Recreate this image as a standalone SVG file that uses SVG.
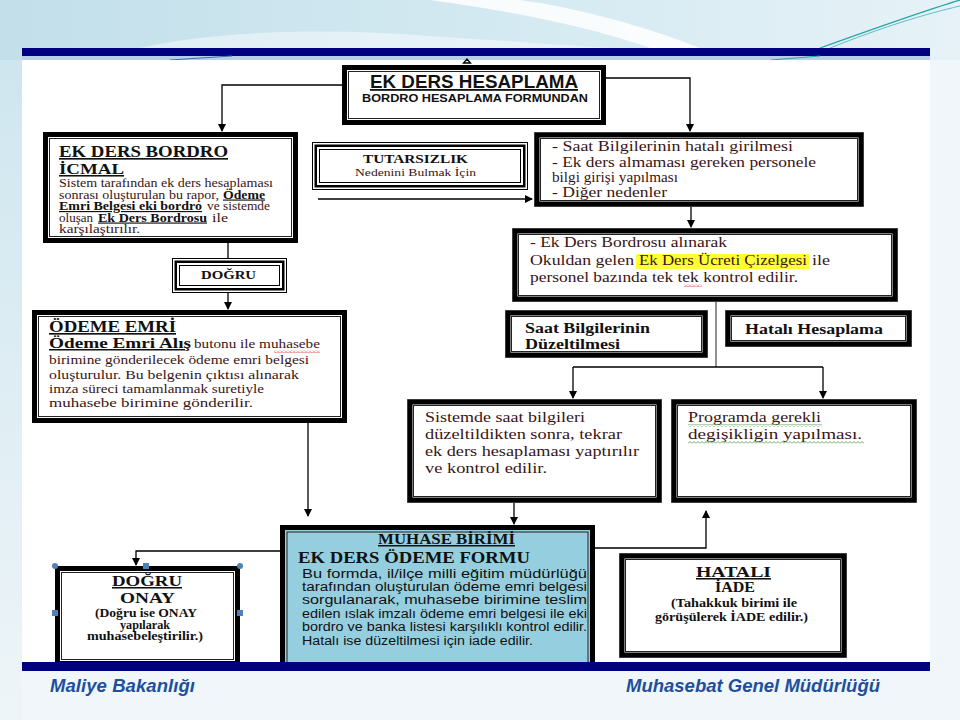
<svg xmlns="http://www.w3.org/2000/svg" width="960" height="720" viewBox="0 0 960 720">
<style>
.fo{fill:none;stroke:#000;stroke-width:5}
.fi{fill:none;stroke:#222;stroke-width:1}
.fg{fill:none;stroke:#777;stroke-width:1}
.t1{fill:none;stroke:#000;stroke-width:1}
.t2{fill:none;stroke:#000;stroke-width:2.5}
.bg{fill:#fff}
.edge{fill:none;stroke:#000;stroke-width:1.3}
.sf{font-family:"Liberation Serif","Times New Roman",serif}
.ss{font-family:"Liberation Sans",Arial,sans-serif}
.b{font-weight:bold}
.u{text-decoration:underline}
.body{fill:#3a1414}
.dark{fill:#111}
.foot{font-family:"Liberation Sans",Arial,sans-serif;font-weight:bold;font-style:italic;font-size:18.5px;fill:#1c4f9c}
.hd{fill:#4f81bd}
</style>
<defs>
<marker id="ah" markerWidth="8" markerHeight="8" refX="7" refY="4" orient="auto" markerUnits="userSpaceOnUse">
<path d="M0,0 L8,4 L0,8 z" fill="#000"/>
</marker>
<linearGradient id="topg" x1="0" y1="0" x2="1" y2="0">
<stop offset="0" stop-color="#c2dfea"/>
<stop offset="0.5" stop-color="#d3e9f1"/>
<stop offset="1" stop-color="#e6f2f7"/>
</linearGradient>
<linearGradient id="leftg" x1="0" y1="0" x2="0" y2="1">
<stop offset="0" stop-color="#cfe6ef"/>
<stop offset="1" stop-color="#eef5f8"/>
</linearGradient>
<pattern id="wg" width="4" height="3" patternUnits="userSpaceOnUse">
<polyline points="0,2.5 2,0.5 4,2.5" fill="none" stroke="#3a9a3a" stroke-width="0.8"/>
</pattern>
<pattern id="wr" width="4" height="3" patternUnits="userSpaceOnUse">
<polyline points="0,2.5 2,0.5 4,2.5" fill="none" stroke="#d03030" stroke-width="0.8"/>
</pattern>
</defs>

<!-- background -->
<rect x="0" y="0" width="960" height="720" fill="#f0f6f9"/>
<rect x="0" y="0" width="960" height="60" fill="url(#topg)"/>
<rect x="0" y="60" width="22" height="660" fill="url(#leftg)"/>
<path d="M140,48 C220,30 330,28 430,36 C520,42 580,46 610,48 Z" fill="#ffffff" opacity="0.45"/>
<path d="M430,0 C520,12 600,30 650,48 L700,48 C650,28 580,8 520,0 Z" fill="#ffffff" opacity="0.85"/>
<path d="M820,48 C870,30 920,12 960,0" fill="none" stroke="#2aa5a5" stroke-width="1.2"/>
<path d="M830,48 C880,28 925,14 960,6" fill="none" stroke="#5cc0c8" stroke-width="1"/>
<rect x="22" y="48" width="908" height="8" fill="#000080"/>
<rect x="22" y="56" width="908" height="4" fill="#b7cfe6"/>
<path d="M170,60 L232,56" stroke="#3a6fb0" stroke-width="1.2"/>
<path d="M771,60 L820,56" stroke="#2aa5a5" stroke-width="1.2"/>
<rect x="22" y="60" width="908" height="602" fill="#ffffff"/>

<!-- nodes -->
<g id="ek-ders-hesaplama">
<rect class="bg" x="342" y="65" width="264" height="60"/>
<rect class="fo" x="344.5" y="67.5" width="259" height="55"/>
<rect class="fi" x="348.5" y="71.5" width="251" height="47"/>
<text class="ss b u dark" x="370" y="88" font-size="18" textLength="208" lengthAdjust="spacingAndGlyphs">EK DERS HESAPLAMA</text>
<text class="ss b dark" x="362" y="102" font-size="11.5" textLength="226" lengthAdjust="spacingAndGlyphs">BORDRO HESAPLAMA FORMUNDAN</text>
</g>

<g id="ek-ders-bordro-icmal">
<rect class="bg" x="43" y="132" width="255" height="111"/>
<rect class="fo" x="45.5" y="134.5" width="250" height="106"/>
<rect class="fi" x="49.5" y="138.5" width="242" height="98"/>
<text class="sf b u dark" x="59" y="157" font-size="16.5" textLength="169" lengthAdjust="spacingAndGlyphs">EK DERS BORDRO</text>
<text class="sf b u dark" x="59" y="174" font-size="15.5" textLength="65" lengthAdjust="spacingAndGlyphs">İCMAL</text>
<text class="sf body" x="59" y="187" font-size="11.5" textLength="214" lengthAdjust="spacingAndGlyphs">Sistem tarafından ek ders hesaplaması</text>
<text class="sf body" x="59" y="198.5" font-size="11.5" textLength="160" lengthAdjust="spacingAndGlyphs">sonrası oluşturulan bu rapor,</text>
<text class="sf b u dark" x="223" y="198.5" font-size="11.5" textLength="42" lengthAdjust="spacingAndGlyphs">Ödeme</text>
<text class="sf b u dark" x="59" y="210" font-size="11.5" textLength="143" lengthAdjust="spacingAndGlyphs">Emri Belgesi eki bordro</text>
<text class="sf body" x="207" y="210" font-size="11.5" textLength="63" lengthAdjust="spacingAndGlyphs">ve sistemde</text>
<text class="sf body" x="59" y="221.5" font-size="11.5" textLength="34" lengthAdjust="spacingAndGlyphs">oluşan</text>
<text class="sf b u dark" x="98" y="221.5" font-size="11.5" textLength="109" lengthAdjust="spacingAndGlyphs">Ek Ders Bordrosu</text>
<text class="sf body" x="212" y="221.5" font-size="11.5" textLength="16" lengthAdjust="spacingAndGlyphs">ile</text>
<text class="sf body" x="59" y="233" font-size="11.5" textLength="81" lengthAdjust="spacingAndGlyphs">karşılaştırılır.</text>
</g>

<g id="tutarsizlik">
<rect class="bg" x="312" y="142" width="216" height="48"/>
<rect class="t1" x="312.5" y="142.5" width="215" height="47"/>
<rect class="t2" x="315.75" y="145.75" width="208.5" height="40.5"/>
<rect class="t1" x="319.5" y="149.5" width="201" height="33"/>
<text class="sf b dark" x="363" y="163" font-size="12.5" textLength="105" lengthAdjust="spacingAndGlyphs">TUTARSIZLIK</text>
<text class="sf body" x="355" y="176" font-size="10.5" textLength="121" lengthAdjust="spacingAndGlyphs">Nedenini Bulmak İçin</text>
</g>

<g id="hata-nedenleri">
<rect class="bg" x="534" y="132" width="330" height="75"/>
<rect class="fg" x="534.5" y="132.5" width="329" height="74"/>
<rect class="fo" x="537" y="135" width="324" height="69"/>
<rect class="fi" x="540.5" y="138.5" width="317" height="62"/>
<text class="sf body" x="552" y="151" font-size="14.5" textLength="241" lengthAdjust="spacingAndGlyphs">- Saat Bilgilerinin hatalı girilmesi</text>
<text class="sf body" x="552" y="166.5" font-size="14.5" textLength="264" lengthAdjust="spacingAndGlyphs">- Ek ders almaması gereken personele</text>
<text class="sf body" x="552" y="182" font-size="14.5" textLength="126" lengthAdjust="spacingAndGlyphs">bilgi girişi yapılması</text>
<text class="sf body" x="552" y="197" font-size="14.5" textLength="115" lengthAdjust="spacingAndGlyphs">- Diğer nedenler</text>
</g>

<g id="ek-ders-bordrosu-kontrol">
<rect class="bg" x="512" y="228" width="386" height="74"/>
<rect class="fg" x="512.5" y="228.5" width="385" height="73"/>
<rect class="fo" x="515" y="231" width="380" height="68"/>
<rect class="fi" x="518.5" y="234.5" width="373" height="61"/>
<rect x="636" y="254" width="173" height="15" fill="#ffff33"/>
<text class="sf body" x="530" y="247" font-size="15" textLength="197" lengthAdjust="spacingAndGlyphs">- Ek Ders Bordrosu alınarak</text>
<text class="sf body" x="530" y="265" font-size="15" textLength="104" lengthAdjust="spacingAndGlyphs">Okuldan gelen</text>
<text class="sf body" x="639" y="265" font-size="15" textLength="168" lengthAdjust="spacingAndGlyphs">Ek Ders Ücreti Çizelgesi</text>
<text class="sf body" x="812" y="265" font-size="15" textLength="18" lengthAdjust="spacingAndGlyphs">ile</text>
<text class="sf body" x="530" y="282" font-size="15" textLength="268" lengthAdjust="spacingAndGlyphs">personel bazında tek tek kontrol edilir.</text>
<rect x="684" y="284" width="18" height="3" fill="url(#wr)"/>
</g>

<g id="dogru">
<rect class="bg" x="172" y="258" width="115" height="35"/>
<rect class="t1" x="172.5" y="258.5" width="114" height="34"/>
<rect class="t2" x="175.75" y="261.75" width="107.5" height="27.5"/>
<rect class="t1" x="179.5" y="265.5" width="100" height="20"/>
<text class="sf b dark" x="201" y="279" font-size="13" textLength="55" lengthAdjust="spacingAndGlyphs">DOĞRU</text>
</g>

<g id="odeme-emri">
<rect class="bg" x="32" y="310" width="315" height="113"/>
<rect class="fo" x="34.5" y="312.5" width="310" height="108"/>
<rect class="fi" x="38.5" y="316.5" width="302" height="100"/>
<text class="sf b u dark" x="49" y="332" font-size="16.5" textLength="127" lengthAdjust="spacingAndGlyphs">ÖDEME EMRİ</text>
<text class="sf b u dark" x="49" y="348" font-size="15" textLength="142" lengthAdjust="spacingAndGlyphs">Ödeme Emri Alış</text>
<text class="sf body" x="194" y="348" font-size="13" textLength="126" lengthAdjust="spacingAndGlyphs">butonu ile muhasebe</text>
<rect x="274" y="350" width="46" height="3" fill="url(#wr)"/>
<text class="sf body" x="49" y="364" font-size="13" textLength="260" lengthAdjust="spacingAndGlyphs">birimine gönderilecek ödeme emri belgesi</text>
<text class="sf body" x="49" y="379" font-size="13" textLength="250" lengthAdjust="spacingAndGlyphs">oluşturulur. Bu belgenin çıktısı alınarak</text>
<text class="sf body" x="49" y="393" font-size="13" textLength="215" lengthAdjust="spacingAndGlyphs">imza süreci tamamlanmak suretiyle</text>
<text class="sf body" x="49" y="407" font-size="13" textLength="204" lengthAdjust="spacingAndGlyphs">muhasebe birimine gönderilir.</text>
</g>

<g id="saat-duzeltilmesi">
<rect class="bg" x="505" y="310" width="203" height="48"/>
<rect class="fg" x="505.5" y="310.5" width="202" height="47"/>
<rect class="fo" x="508" y="313" width="197" height="42"/>
<rect class="fi" x="511.5" y="316.5" width="190" height="35"/>
<text class="sf b dark" x="525" y="333" font-size="15.5" textLength="125" lengthAdjust="spacingAndGlyphs">Saat Bilgilerinin</text>
<text class="sf b dark" x="525" y="349" font-size="15.5" textLength="95" lengthAdjust="spacingAndGlyphs">Düzeltilmesi</text>
</g>

<g id="hatali-hesaplama">
<rect class="bg" x="725" y="310" width="187" height="37"/>
<rect class="fg" x="725.5" y="310.5" width="186" height="36"/>
<rect class="fo" x="728" y="313" width="181" height="31"/>
<rect class="fi" x="731.5" y="316.5" width="174" height="24"/>
<text class="sf b dark" x="745" y="334" font-size="15.5" textLength="138" lengthAdjust="spacingAndGlyphs">Hatalı Hesaplama</text>
</g>

<g id="tekrar-hesaplama">
<rect class="bg" x="407" y="399" width="255" height="104"/>
<rect class="fg" x="407.5" y="399.5" width="254" height="103"/>
<rect class="fo" x="410" y="402" width="249" height="98"/>
<rect class="fi" x="413.5" y="405.5" width="242" height="91"/>
<text class="sf body" x="425" y="422" font-size="15.5" textLength="160" lengthAdjust="spacingAndGlyphs">Sistemde saat bilgileri</text>
<text class="sf body" x="425" y="439" font-size="15.5" textLength="197" lengthAdjust="spacingAndGlyphs">düzeltildikten sonra, tekrar</text>
<text class="sf body" x="425" y="456" font-size="15.5" textLength="214" lengthAdjust="spacingAndGlyphs">ek ders hesaplaması yaptırılır</text>
<text class="sf body" x="425" y="473" font-size="15.5" textLength="122" lengthAdjust="spacingAndGlyphs">ve kontrol edilir.</text>
</g>

<g id="program-degisikligi">
<rect class="bg" x="671" y="399" width="246" height="104"/>
<rect class="fg" x="671.5" y="399.5" width="245" height="103"/>
<rect class="fo" x="674" y="402" width="240" height="98"/>
<rect class="fi" x="677.5" y="405.5" width="233" height="91"/>
<text class="sf body" x="688" y="422" font-size="15.5" textLength="133" lengthAdjust="spacingAndGlyphs">Programda gerekli</text>
<text class="sf body" x="688" y="439" font-size="15.5" textLength="174" lengthAdjust="spacingAndGlyphs">degişikligin yapılması.</text>
<rect x="688" y="424" width="134" height="3" fill="url(#wg)"/>
<rect x="688" y="441" width="176" height="3" fill="url(#wg)"/>
</g>

<g id="muhasebe-birimi">
<rect x="280" y="525" width="315" height="145" fill="#95cfdf"/>
<rect class="fo" x="282.5" y="527.5" width="310" height="140"/>
<rect class="fi" x="287" y="532" width="301" height="131"/>
<text class="sf b u dark" x="378" y="544" font-size="15" textLength="137" lengthAdjust="spacingAndGlyphs">MUHASE BİRİMİ</text>
<text class="sf b dark" x="298" y="563" font-size="16.5" textLength="232" lengthAdjust="spacingAndGlyphs">EK DERS ÖDEME FORMU</text>
<text class="ss dark" x="302" y="578" font-size="12.5" textLength="285" lengthAdjust="spacingAndGlyphs">Bu formda, il/ilçe milli eğitim müdürlüğü</text>
<text class="ss dark" x="302" y="591" font-size="12.5" textLength="285" lengthAdjust="spacingAndGlyphs">tarafından oluşturulan ödeme emri belgesi</text>
<text class="ss dark" x="302" y="604" font-size="12.5" textLength="285" lengthAdjust="spacingAndGlyphs">sorgulanarak, muhasebe birimine teslim</text>
<text class="ss dark" x="302" y="617.5" font-size="12.5" textLength="285" lengthAdjust="spacingAndGlyphs">edilen ıslak imzalı ödeme emri belgesi ile eki</text>
<text class="ss dark" x="302" y="631" font-size="12.5" textLength="285" lengthAdjust="spacingAndGlyphs">bordro ve banka listesi karşılıklı kontrol edilir.</text>
<text class="ss dark" x="302" y="644.5" font-size="12.5" textLength="231" lengthAdjust="spacingAndGlyphs">Hatalı ise düzeltilmesi için iade edilir.</text>
</g>

<g id="dogru-onay">
<rect class="bg" x="55" y="566" width="185" height="100"/>
<rect class="fo" x="57.5" y="568.5" width="180" height="95"/>
<rect class="fi" x="61.5" y="572.5" width="172" height="87"/>
<text class="sf b u dark" x="112" y="586" font-size="15.5" textLength="70" lengthAdjust="spacingAndGlyphs">DOĞRU</text>
<text class="sf b dark" x="120" y="603" font-size="15.5" textLength="55" lengthAdjust="spacingAndGlyphs">ONAY</text>
<text class="sf b dark" x="95" y="617" font-size="11.5" textLength="102" lengthAdjust="spacingAndGlyphs">(Doğru ise ONAY</text>
<text class="sf b dark" x="120" y="628.5" font-size="11.5" textLength="50" lengthAdjust="spacingAndGlyphs">yapılarak</text>
<text class="sf b dark" x="87" y="640" font-size="11.5" textLength="116" lengthAdjust="spacingAndGlyphs">muhasebeleştirilir.)</text>
<circle class="hd" cx="55" cy="566" r="3"/>
<circle class="hd" cx="240" cy="566" r="3"/>
<rect class="hd" x="143" y="563" width="6" height="6"/>
<rect class="hd" x="52" y="610" width="6" height="6"/>
<rect class="hd" x="237" y="610" width="6" height="6"/>
</g>

<g id="hatali-iade">
<rect class="bg" x="619" y="553" width="228" height="105"/>
<rect class="fg" x="619.5" y="553.5" width="227" height="104"/>
<rect class="fo" x="622" y="556" width="222" height="99"/>
<rect class="fi" x="625.5" y="559.5" width="215" height="92"/>
<text class="sf b u dark" x="696" y="577" font-size="15.5" textLength="75" lengthAdjust="spacingAndGlyphs">HATALI</text>
<text class="sf b dark" x="715" y="592" font-size="14.5" textLength="40" lengthAdjust="spacingAndGlyphs">İADE</text>
<text class="sf b dark" x="671" y="607" font-size="12" textLength="126" lengthAdjust="spacingAndGlyphs">(Tahakkuk birimi ile</text>
<text class="sf b dark" x="655" y="621" font-size="12" textLength="153" lengthAdjust="spacingAndGlyphs">görüşülerek İADE edilir.)</text>
</g>

<!-- connectors -->
<g id="connectors">
<path class="edge" d="M467,59 L463.5,63 L470.5,63 Z" fill="#000"/>
<path class="edge" d="M342,85 H222 V131" marker-end="url(#ah)"/>
<path class="edge" d="M606,78 H690 V131" marker-end="url(#ah)"/>
<path class="edge" d="M318,199 H532" marker-end="url(#ah)"/>
<path class="edge" d="M228,243 V258"/>
<path class="edge" d="M228,293 V309" marker-end="url(#ah)"/>
<path class="edge" d="M691,207 V227" marker-end="url(#ah)"/>
<path class="edge" style="stroke:#555" d="M716,302 V367"/>
<path class="edge" d="M573,367 H823"/>
<path class="edge" d="M573,367 V398" marker-end="url(#ah)"/>
<path class="edge" d="M823,367 V398" marker-end="url(#ah)"/>
<path class="edge" d="M308,423 V516" marker-end="url(#ah)"/>
<path class="edge" d="M514,503 V524" marker-end="url(#ah)"/>
<path class="edge" d="M280,551 H136 V565" marker-end="url(#ah)"/>
<path class="edge" d="M595,548 H706 V511" marker-end="url(#ah)"/>
</g>

<!-- footer -->
<rect x="22" y="662" width="908" height="9" fill="#000080"/>
<text class="foot" x="50" y="692" textLength="145">Maliye Bakanlığı</text>
<text class="foot" x="626" y="692" textLength="254">Muhasebat Genel Müdürlüğü</text>
</svg>
